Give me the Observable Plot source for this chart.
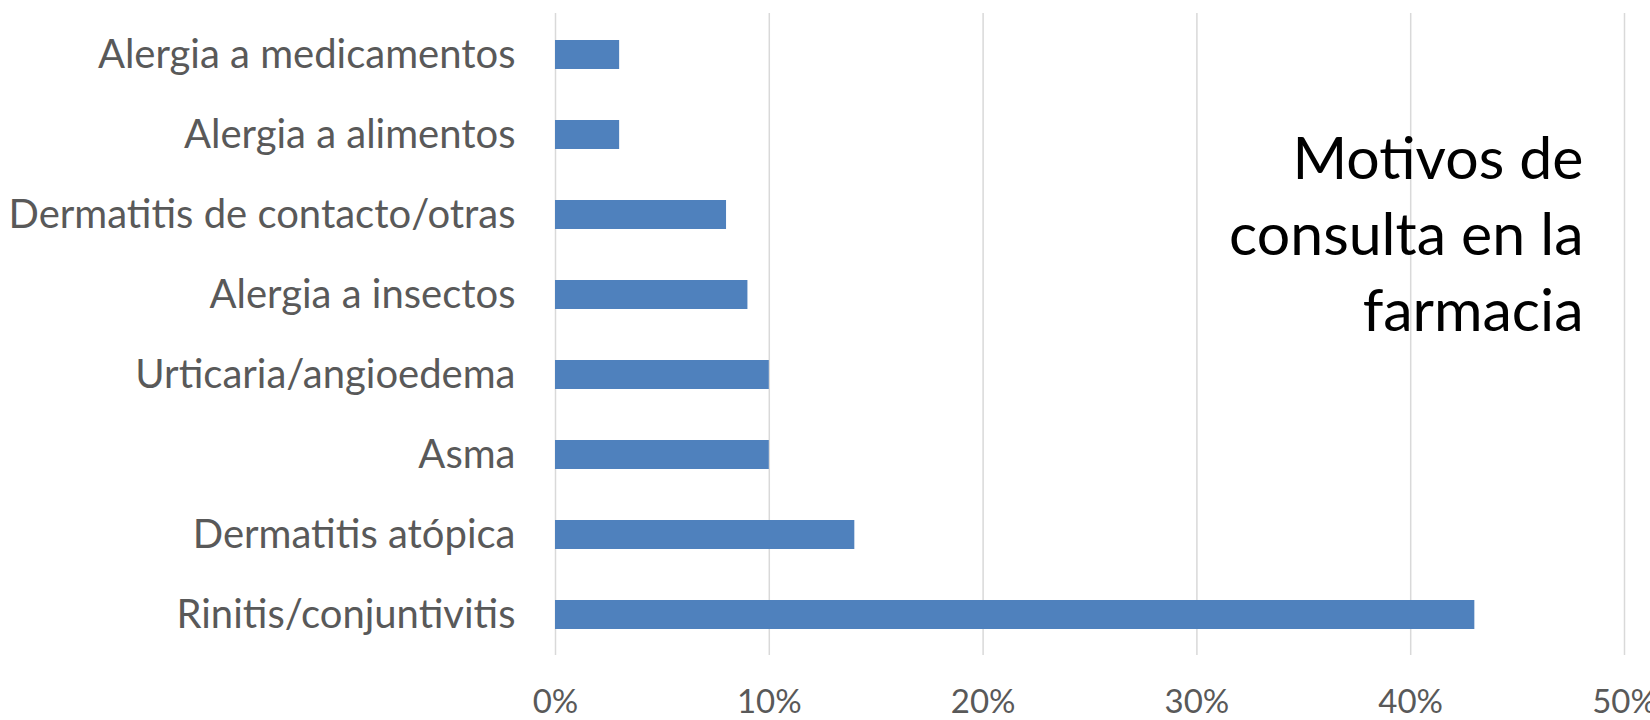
<!DOCTYPE html>
<html>
<head>
<meta charset="utf-8">
<script src="https://cdn.jsdelivr.net/npm/d3@7"></script>
<script src="https://cdn.jsdelivr.net/npm/@observablehq/plot@0.6"></script>
<style>
  html, body { margin: 0; padding: 0; background: #ffffff; }
  #chart svg { display: block; }
</style>
</head>
<body>
<div id="chart"></div>
<script>
const categories = [
  "Rinitis/conjuntivitis",
  "Dermatitis atópica",
  "Asma",
  "Urticaria/angioedema",
  "Alergia a insectos",
  "Dermatitis de contacto/otras",
  "Alergia a alimentos",
  "Alergia a medicamentos"
];
const values = [43, 14, 10, 10, 9, 8, 3, 3];
const xTicks = [0, 10, 20, 30, 40, 50];
const titleText = "Motivos de\nconsulta en la\nfarmacia";

const data = categories.map((c, i) => ({category: c, value: values[i]}));
const yOrder = categories.slice().reverse();

const chart = Plot.plot({
  width: 1650,
  height: 720,
  marginLeft: 555,
  marginRight: 26,
  marginTop: 13,
  marginBottom: 65,
  style: {fontFamily: "Lato, sans-serif", color: "#595959", background: "#ffffff"},
  x: {domain: [0, 50], label: null},
  y: {domain: yOrder, paddingInner: 0.64, paddingOuter: 0.32, label: null},
  marks: [
    Plot.gridX(xTicks, {stroke: "#d9d9d9", strokeOpacity: 1, strokeWidth: 1.5}),
    Plot.barX(data, {x: "value", y: "category", fill: "#4f81bd"}),
    Plot.axisX(xTicks, {tickSize: 0, tickPadding: 34, fontSize: 33, tickFormat: d => d + "%", label: null}),
    Plot.axisY({tickSize: 0, tickPadding: 40, fontSize: 40, label: null}),
    Plot.text([titleText], {
      frameAnchor: "top-right",
      textAnchor: "end",
      lineAnchor: "top",
      fontSize: 59,
      lineHeight: 1.288,
      fill: "#000000",
      dx: -41,
      dy: 112
    })
  ]
});
document.getElementById("chart").appendChild(chart);
</script>
</body>
</html>
